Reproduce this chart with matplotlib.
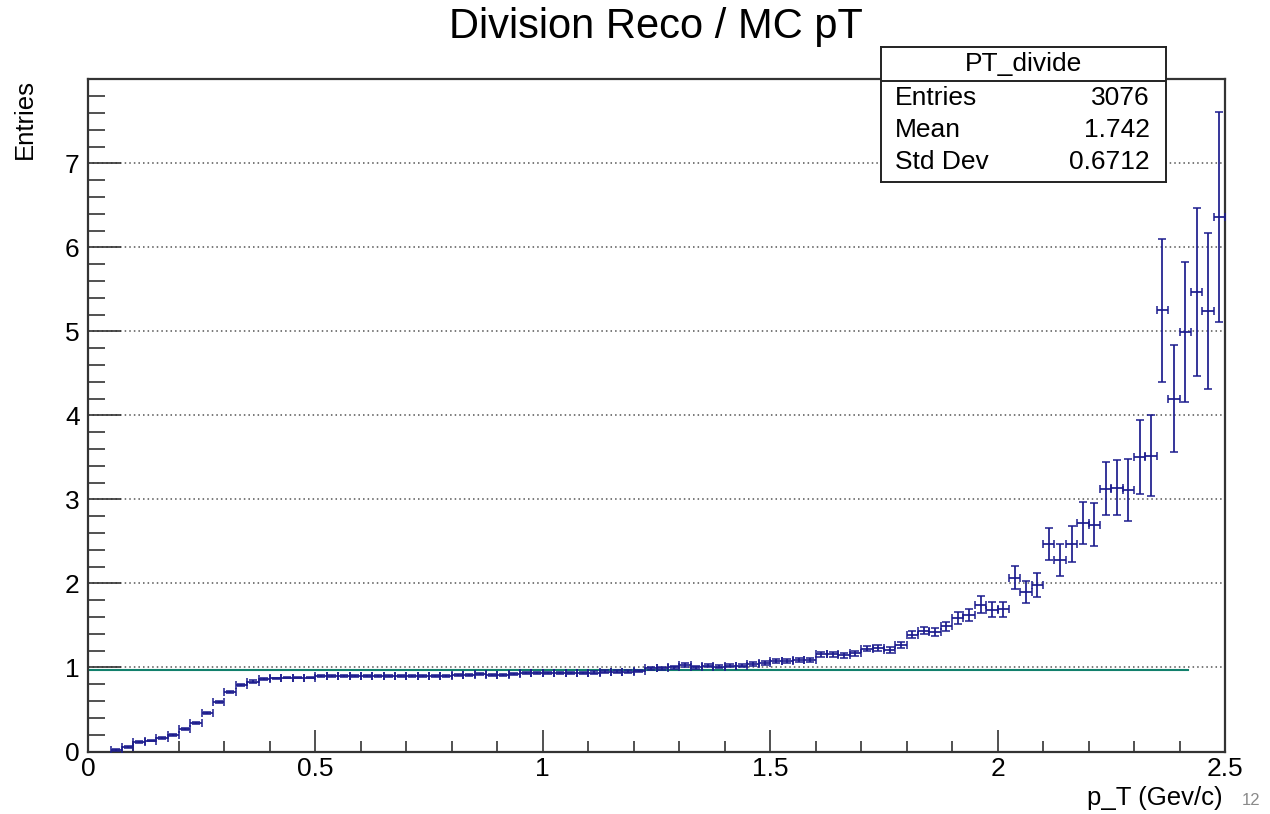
import numpy as np
import matplotlib
matplotlib.use('Agg')
import matplotlib.pyplot as plt
from matplotlib.ticker import MultipleLocator, FixedLocator

plt.rcParams['font.family'] = ['Liberation Sans', 'DejaVu Sans']

# histogram binning: 100 bins in [0, 2.5], first two bins empty
bin_edges = np.linspace(0, 2.5, 101)
first_bin = 2

ratio = [0.02, 0.05, 0.11, 0.13, 0.16, 0.20, 0.27, 0.34, 0.46, 0.59,
         0.71, 0.79, 0.83, 0.86, 0.87, 0.88, 0.88, 0.88, 0.90, 0.90,
         0.90, 0.90, 0.90, 0.90, 0.90, 0.90, 0.90, 0.90, 0.90, 0.90,
         0.91, 0.91, 0.92, 0.91, 0.91, 0.92, 0.93, 0.93, 0.93, 0.94,
         0.94, 0.94, 0.94, 0.95, 0.95, 0.95, 0.96, 0.99, 0.99, 1.00,
         1.03, 1.00, 1.02, 1.01, 1.02, 1.02, 1.04, 1.055, 1.075, 1.075,
         1.087, 1.087, 1.16, 1.16, 1.147, 1.17, 1.225, 1.23, 1.21, 1.27,
         1.39, 1.44, 1.42, 1.49, 1.585, 1.625, 1.745, 1.685, 1.69, 2.07,
         1.90, 1.98, 2.47, 2.28, 2.47, 2.72, 2.70, 3.13, 3.14, 3.11,
         3.50, 3.52, 5.25, 4.20, 4.99, 5.47, 5.24, 6.36]

ratio_err = [0.01, 0.01, 0.01, 0.01, 0.01, 0.01, 0.01, 0.01, 0.01, 0.015,
             0.015, 0.015, 0.015, 0.015, 0.01, 0.01, 0.01, 0.01, 0.01, 0.01,
             0.01, 0.01, 0.01, 0.01, 0.01, 0.01, 0.01, 0.01, 0.01, 0.01,
             0.01, 0.01, 0.012, 0.012, 0.012, 0.012, 0.012, 0.012, 0.012, 0.012,
             0.012, 0.012, 0.015, 0.015, 0.015, 0.015, 0.015, 0.015, 0.015, 0.015,
             0.02, 0.02, 0.02, 0.02, 0.02, 0.02, 0.02, 0.02, 0.02, 0.02,
             0.02, 0.025, 0.03, 0.03, 0.03, 0.03, 0.03, 0.035, 0.035, 0.035,
             0.045, 0.045, 0.05, 0.05, 0.07, 0.07, 0.10, 0.09, 0.09, 0.14,
             0.13, 0.14, 0.19, 0.19, 0.21, 0.25, 0.26, 0.32, 0.33, 0.37,
             0.44, 0.48, 0.85, 0.64, 0.83, 1.00, 0.93, 1.25]

# constant fit drawn over the histogram
fit_const = 0.965
fit_range = [0.0, 2.418]

stats_title = 'PT_divide'
stats_labels = ['Entries', 'Mean', 'Std Dev']
stats_values = ['3076', '1.742', '0.6712']

x_ticks = [0, 0.5, 1, 1.5, 2, 2.5]
x_ticklabels = ['0', '0.5', '1', '1.5', '2', '2.5']
y_ticks = [0, 1, 2, 3, 4, 5, 6, 7]

W, H = 1270, 814
fig = plt.figure(figsize=(W / 100, H / 100), dpi=100)

ax = fig.add_axes([88 / W, 1 - 751.5 / H, (1225 - 88) / W, (751.5 - 79.3) / H])

centers = 0.5 * (bin_edges[:-1] + bin_edges[1:])[first_bin:]
half_w = 0.5 * np.diff(bin_edges)[first_bin:]

navy = '#1c1c8e'
ax.errorbar(centers, ratio, xerr=half_w, yerr=ratio_err, fmt='none',
            ecolor=navy, elinewidth=1.25, capsize=2.6, capthick=1.1, zorder=3)
ax.plot(fit_range, [fit_const, fit_const], color='#12806c', linewidth=1.5, zorder=2)

ax.set_xlim(0, 2.5)
ax.set_ylim(0, 8)
ax.xaxis.set_major_locator(FixedLocator(x_ticks))
ax.set_xticklabels(x_ticklabels)
ax.xaxis.set_minor_locator(MultipleLocator(0.1))
ax.set_yticks(y_ticks)
ax.yaxis.set_minor_locator(MultipleLocator(0.2))

ax.yaxis.grid(True, which='major', linestyle=(0, (1, 2)), color='#555555', linewidth=1.1)
ax.set_axisbelow(True)

frame_col = '#333333'
for s in ax.spines.values():
    s.set_color(frame_col)
    s.set_linewidth(1.6)

ax.tick_params(axis='x', which='major', direction='in', length=15.8, width=1.2,
               color=frame_col, labelsize=19, pad=4, top=False)
ax.tick_params(axis='x', which='minor', direction='in', length=8, width=1.2,
               color=frame_col, top=False)
ax.tick_params(axis='y', which='major', direction='in', length=23.8, width=1.2,
               color=frame_col, labelsize=19, pad=6, right=False)
ax.tick_params(axis='y', which='minor', direction='in', length=12, width=1.2,
               color=frame_col, right=False)

# titles
fig.text(656 / W, 1 - 27 / H, 'Division Reco / MC pT', ha='center', va='center', fontsize=30)
fig.text(25 / W, 1 - 79 / H, 'Entries', rotation=90, ha='center', va='top', fontsize=18.5)
fig.text(1223 / W, 1 - 805 / H, 'p_T (Gev/c)', ha='right', va='baseline', fontsize=18.5)
fig.text(1242 / W, 1 - 805 / H, '12', ha='left', va='baseline', fontsize=12, color='#8a8a8a')

# stats box
sb = fig.add_axes([881 / W, 1 - 181.7 / H, (1166 - 881) / W, (181.7 - 47.3) / H])
sb.set_xlim(0, 1)
sb.set_ylim(0, 1)
sb.set_xticks([])
sb.set_yticks([])
sb.set_facecolor('white')
for s in sb.spines.values():
    s.set_color('#222222')
    s.set_linewidth(1.4)
sb.axhline(0.7515, color='#222222', linewidth=1.4)
sb.text(0.5, 0.876, stats_title, ha='center', va='center', fontsize=19)
for lab, val, yy in zip(stats_labels, stats_values, [0.623, 0.385, 0.149]):
    sb.text(0.049, yy, lab, ha='left', va='center', fontsize=19)
    sb.text(0.944, yy, val, ha='right', va='center', fontsize=19)

fig.savefig('out.png', dpi=100)
